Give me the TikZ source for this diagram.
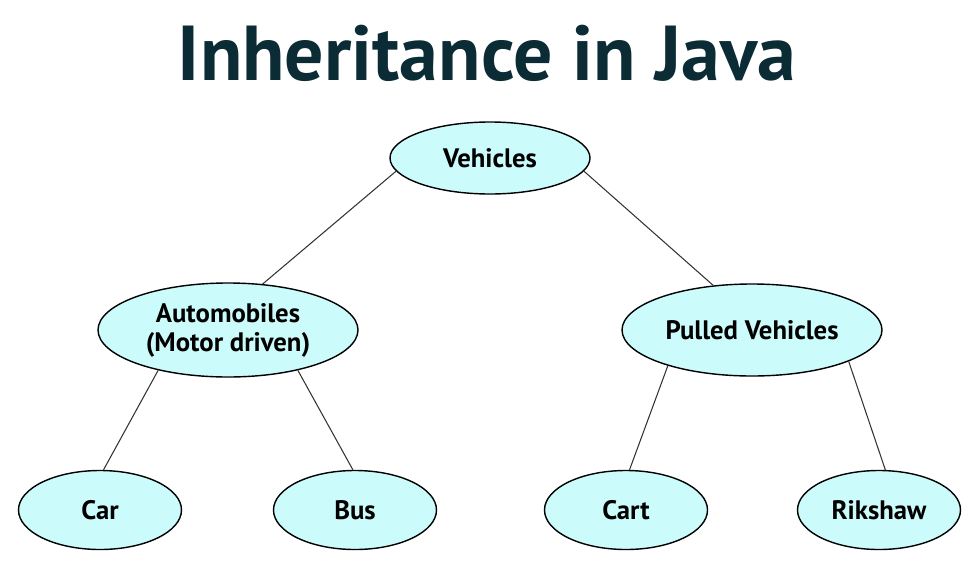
\documentclass[tikz,border=0pt]{standalone}
\usepackage{fontspec}
\setmainfont{PT Sans}
\usetikzlibrary{shapes.geometric}
\definecolor{titleteal}{HTML}{0B2B35}
\definecolor{nodecyan}{HTML}{CCFBFB}
\begin{document}
\begin{tikzpicture}[
  cls/.style={ellipse, draw=black, line width=0.8pt, fill=nodecyan, inner sep=0pt,
    align=center, font=\fontsize{15.2}{16.5}\selectfont\bfseries},
  leaf/.style={cls, minimum width=3.26cm, minimum height=1.58cm},
  link/.style={draw=black!80, line width=0.6pt}]
  \useasboundingbox (0,0) rectangle (19.4,-11.72);
  % title
  \node[anchor=base, text=titleteal, font=\fontsize{44.3}{48}\selectfont\bfseries]
    (title) at (9.74,-1.6) {Inheritance in Java};
  % class hierarchy
  \node[cls, minimum width=4cm, minimum height=1.44cm] (veh) at (9.8,-3.16) {Vehicles};
  \node[cls, minimum width=5.2cm, minimum height=1.88cm] (auto) at (4.56,-6.6)
    {Automobiles\\(Motor driven)};
  \node[cls, minimum width=5.2cm, minimum height=1.84cm] (pull) at (15.04,-6.6)
    {Pulled Vehicles};
  \node[leaf] (car) at (2,-10.2) {Car};
  \node[leaf] (bus) at (7.1,-10.2) {Bus};
  \node[leaf] (cart) at (12.52,-10.2) {Cart};
  \node[leaf] (rik) at (17.58,-10.2) {Rikshaw};
  % links
  \draw[link] (veh.188) -- (auto.53);
  \draw[link] (veh.-8) -- (pull.131);
  \draw[link] (auto.210) -- (car.85);
  \draw[link] (auto.-30) -- (bus.93);
  \draw[link] (pull.203) -- (cart.85);
  \draw[link] (pull.-18) -- (rik.81);
\end{tikzpicture}
\end{document}
